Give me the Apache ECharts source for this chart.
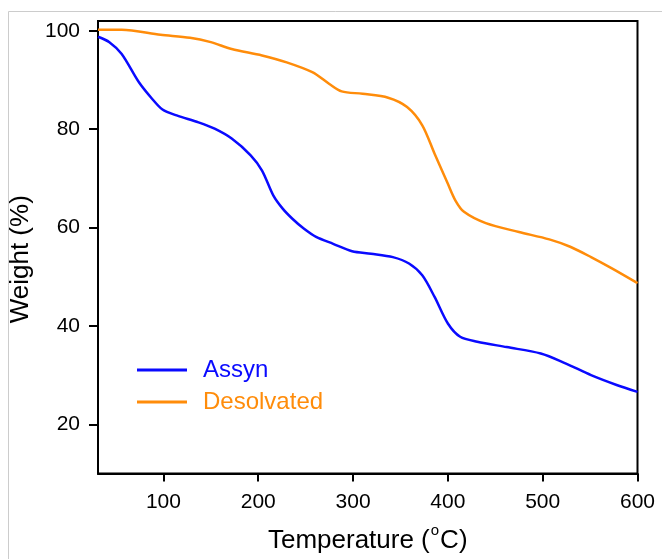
<!DOCTYPE html>
<html>
<head>
<meta charset="utf-8">
<script src="https://cdn.jsdelivr.net/npm/echarts@6/dist/echarts.min.js"></script>
<style>html,body{margin:0;padding:0;background:#fff}#c{width:662px;height:559px}</style>
</head>
<body>
<div id="c"></div>
<script>
// Temperature (°C) and weight (%)
const assynT = [31, 43, 56, 74, 88, 99, 114, 137, 154, 172, 192, 204, 216, 226, 236, 248, 261, 279, 299, 319, 342, 359, 373, 386, 400, 413, 431, 462, 498, 524, 551, 578, 600];
const assynW = [98.8, 97.7, 95.3, 89.6, 86.2, 84.0, 82.8, 81.4, 80.1, 78.1, 74.7, 71.6, 66.5, 63.8, 61.8, 59.8, 58.1, 56.7, 55.2, 54.7, 54.0, 52.7, 50.3, 45.9, 40.5, 37.8, 36.8, 35.7, 34.4, 32.4, 30.0, 28.0, 26.6];
const desolT = [31, 56, 97, 128, 150, 172, 204, 230, 257, 275, 288, 310, 337, 357, 373, 386, 400, 408, 417, 440, 475, 507, 529, 551, 573, 600];
const desolW = [100.2, 100.2, 99.2, 98.6, 97.7, 96.3, 95.0, 93.6, 91.6, 89.2, 87.7, 87.2, 86.4, 84.5, 80.8, 75.0, 68.9, 65.5, 63.2, 60.9, 59.1, 57.6, 56.1, 54.0, 51.7, 48.7];
const xTicks = [100, 200, 300, 400, 500, 600];
const yTicks = [20, 40, 60, 80, 100];
const seriesNames = ['Assyn', 'Desolvated'];
const seriesColors = ['#0a0aff', '#ff8c0a'];

const zip = (a, b) => a.map((v, i) => [v, b[i]]);
const chart = echarts.init(document.getElementById('c'), null, {renderer: 'canvas'});
const font = 'Liberation Sans, Arial, sans-serif';
chart.setOption({
  animation: false,
  backgroundColor: '#fff',
  graphic: [{
    type: 'rect', shape: {x: 8.5, y: 11.5, width: 700, height: 600},
    style: {fill: null, stroke: '#cccccc', lineWidth: 1}, silent: true, z: -10
  }],
  grid: {left: 98, right: 24.5, top: 21, bottom: 85.5, outerBoundsMode: 'none', containLabel: false,
         show: true, borderColor: '#000', borderWidth: 2, backgroundColor: 'transparent'},
  legend: {
    orient: 'vertical', left: 137, top: 357, padding: 0, itemWidth: 50, itemHeight: 3, itemGap: 6,
    icon: 'rect',
    data: seriesNames.map((n, i) => ({name: n, textStyle: {color: seriesColors[i]}})),
    textStyle: {fontFamily: font, fontSize: 24, lineHeight: 26, padding: [0, 0, 0, 11]}
  },
  xAxis: {
    type: 'value', min: 31, max: 600,
    name: '{a|Temperature (}{s|o}{a|C)}', nameLocation: 'middle', nameGap: 50,
    nameTextStyle: {
      fontFamily: font, fontSize: 26, color: '#000',
      rich: {
        a: {fontFamily: font, fontSize: 26, color: '#000', lineHeight: 30, verticalAlign: 'bottom'},
        s: {fontFamily: font, fontSize: 15, color: '#000', lineHeight: 30, verticalAlign: 'top', padding: [0, 1, 0, 1]}
      }
    },
    axisLine: {show: true, lineStyle: {color: '#000', width: 2}},
    axisTick: {show: true, length: 8, lineStyle: {color: '#000', width: 2}, customValues: xTicks},
    axisLabel: {fontFamily: font, fontSize: 21, color: '#000', margin: 18, customValues: xTicks},
    splitLine: {show: false}
  },
  yAxis: {
    type: 'value', min: 10, max: 102,
    name: 'Weight (%)', nameLocation: 'middle', nameGap: 57,
    nameTextStyle: {fontFamily: font, fontSize: 26, color: '#000', padding: [0, 24, 0, 0]},
    axisLine: {show: true, lineStyle: {color: '#000', width: 2}},
    axisTick: {show: true, length: 9, lineStyle: {color: '#000', width: 2}, customValues: yTicks},
    axisLabel: {fontFamily: font, fontSize: 21, color: '#000', margin: 18, customValues: yTicks},
    splitLine: {show: false}
  },
  series: [
    {name: seriesNames[0], type: 'line', data: zip(assynT, assynW), smooth: 0.3, showSymbol: false, symbol: 'none',
     lineStyle: {color: seriesColors[0], width: 2.5}, itemStyle: {color: seriesColors[0]}},
    {name: seriesNames[1], type: 'line', data: zip(desolT, desolW), smooth: 0.3, showSymbol: false, symbol: 'none',
     lineStyle: {color: seriesColors[1], width: 2.5}, itemStyle: {color: seriesColors[1]}}
  ]
});
</script>
</body>
</html>
